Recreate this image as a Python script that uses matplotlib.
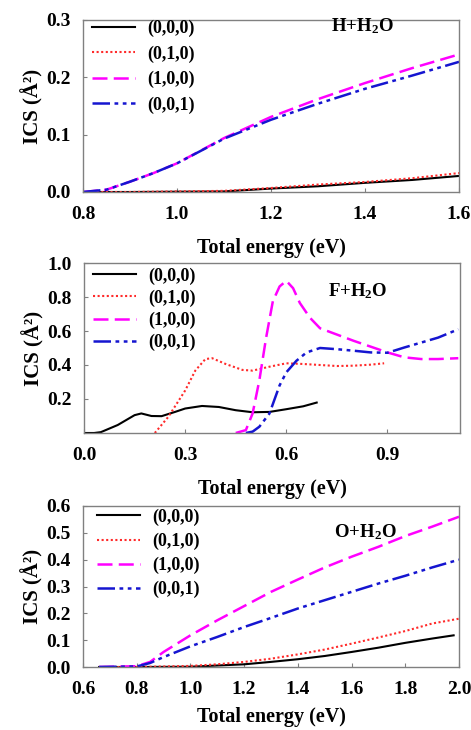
import matplotlib
matplotlib.use("Agg")
import matplotlib.pyplot as plt

plt.rcParams['font.family'] = ['Liberation Serif', 'DejaVu Serif']
plt.rcParams['font.weight'] = 'bold'
plt.rcParams['mathtext.fontset'] = 'custom'
plt.rcParams['mathtext.rm'] = 'Liberation Serif:bold'
plt.rcParams['mathtext.it'] = 'Liberation Serif:bold'
plt.rcParams['mathtext.bf'] = 'Liberation Serif:bold'

labels = ['(0,0,0)', '(0,1,0)', '(1,0,0)', '(0,0,1)']

# ---- H + H2O ----
h_x000 = [0.80, 0.90, 1.00, 1.10, 1.20, 1.30, 1.40, 1.50, 1.60]
h_y000 = [0.0, 0.0, 0.0005, 0.001, 0.006, 0.010, 0.016, 0.021, 0.028]
h_x010 = [0.80, 0.90, 1.00, 1.10, 1.20, 1.30, 1.40, 1.50, 1.60]
h_y010 = [0.0, 0.0, 0.001, 0.002, 0.007, 0.013, 0.0175, 0.024, 0.033]
h_x100 = [0.80, 0.85, 0.90, 0.95, 1.00, 1.10, 1.20, 1.30, 1.40, 1.50, 1.60]
h_y100 = [0.0, 0.004, 0.018, 0.033, 0.050, 0.094, 0.131, 0.162, 0.190, 0.216, 0.240]
h_x001 = [0.80, 0.85, 0.90, 0.95, 1.00, 1.10, 1.20, 1.30, 1.40, 1.50, 1.60]
h_y001 = [0.0, 0.004, 0.018, 0.033, 0.050, 0.093, 0.126, 0.154, 0.180, 0.203, 0.227]

# ---- F + H2O ----
f_x000 = [0.00, 0.03, 0.05, 0.10, 0.15, 0.17, 0.20, 0.23, 0.27, 0.30, 0.35, 0.40, 0.45, 0.50, 0.55, 0.60, 0.65, 0.69]
f_y000 = [0.0, 0.0, 0.005, 0.047, 0.105, 0.115, 0.100, 0.099, 0.124, 0.144, 0.159, 0.153, 0.134, 0.122, 0.124, 0.140, 0.157, 0.179]
f_x010 = [0.21, 0.25, 0.30, 0.33, 0.36, 0.38, 0.42, 0.47, 0.50, 0.55, 0.60, 0.65, 0.70, 0.75, 0.80, 0.85, 0.89]
f_y010 = [0.0, 0.095, 0.25, 0.367, 0.435, 0.44, 0.406, 0.371, 0.367, 0.39, 0.41, 0.406, 0.40, 0.394, 0.396, 0.402, 0.41]
f_x100 = [0.45, 0.48, 0.50, 0.52, 0.54, 0.56, 0.58, 0.60, 0.62, 0.64, 0.67, 0.70, 0.80, 0.90, 0.95, 1.00, 1.05, 1.11]
f_y100 = [0.0, 0.017, 0.115, 0.31, 0.56, 0.775, 0.862, 0.895, 0.852, 0.765, 0.678, 0.616, 0.542, 0.474, 0.445, 0.435, 0.435, 0.44]
f_x001 = [0.48, 0.50, 0.52, 0.55, 0.58, 0.60, 0.63, 0.66, 0.70, 0.75, 0.80, 0.85, 0.90, 0.95, 1.00, 1.05, 1.11]
f_y001 = [0.0, 0.008, 0.037, 0.115, 0.28, 0.357, 0.425, 0.474, 0.50, 0.493, 0.484, 0.474, 0.472, 0.503, 0.532, 0.561, 0.61]

# ---- O + H2O ----
o_x000 = [0.66, 0.80, 1.00, 1.20, 1.30, 1.40, 1.50, 1.60, 1.70, 1.80, 1.90, 1.98]
o_y000 = [0.0, 0.0, 0.001, 0.010, 0.019, 0.029, 0.041, 0.056, 0.072, 0.090, 0.106, 0.118]
o_x010 = [0.66, 0.80, 1.00, 1.10, 1.20, 1.30, 1.40, 1.50, 1.60, 1.70, 1.80, 1.90, 2.00]
o_y010 = [0.0, 0.0, 0.004, 0.010, 0.019, 0.031, 0.047, 0.065, 0.087, 0.110, 0.134, 0.162, 0.180]
o_x100 = [0.66, 0.80, 0.85, 0.90, 1.00, 1.10, 1.20, 1.30, 1.40, 1.50, 1.60, 1.70, 1.80, 1.90, 2.00]
o_y100 = [0.0, 0.003, 0.019, 0.056, 0.118, 0.174, 0.227, 0.280, 0.326, 0.371, 0.411, 0.448, 0.488, 0.523, 0.560]
o_x001 = [0.66, 0.80, 0.85, 0.90, 1.00, 1.10, 1.20, 1.30, 1.40, 1.50, 1.60, 1.70, 1.80, 1.90, 2.00]
o_y001 = [0.0, 0.002, 0.015, 0.037, 0.077, 0.112, 0.149, 0.183, 0.218, 0.249, 0.280, 0.311, 0.340, 0.371, 0.400]

styles = [
    dict(color='black', linestyle='-', linewidth=1.5),
    dict(color='#ff2a2a', linestyle=(0, (1, 1.2)), linewidth=1.5),
    dict(color='#ff00ff', linestyle=(0, (6, 2.5)), linewidth=1.8),
    dict(color='#1515d0', linestyle=(0, (7, 1.8, 1.5, 1.8, 1.5, 1.8)), linewidth=1.8),
]

fig = plt.figure(figsize=(4.71, 7.30), dpi=100)
W, H = 471.0, 730.0

def make_ax(l, t, r, b):
    return fig.add_axes([l / W, 1 - b / H, (r - l) / W, (b - t) / H])

panels = [
    dict(box=(83, 20, 459, 192), data=[(h_x000, h_y000), (h_x010, h_y010), (h_x100, h_y100), (h_x001, h_y001)],
         xlim=(0.8, 1.6), ylim=(0, 0.3), xticks=[0.8, 1.0, 1.2, 1.4, 1.6], yticks=[0.0, 0.1, 0.2, 0.3],
         title=r'H+H$_2$O', tpos=(0.742, 0.962), leg_anchor=(0.024, 1.0), leg_spacing=0.45, xlab_y=-0.27),
    dict(box=(84, 263, 460, 433), data=[(f_x000, f_y000), (f_x010, f_y010), (f_x100, f_y100), (f_x001, f_y001)],
         xlim=(0.0, 1.115), ylim=(0, 1.0), xticks=[0.0, 0.3, 0.6, 0.9], yticks=[0.2, 0.4, 0.6, 0.8, 1.0],
         title=r'F+H$_2$O', tpos=(0.729, 0.835), leg_anchor=(0.024, 0.975), leg_spacing=0.27, xlab_y=-0.27),
    dict(box=(83, 506, 459, 667), data=[(o_x000, o_y000), (o_x010, o_y010), (o_x100, o_y100), (o_x001, o_y001)],
         xlim=(0.6, 2.0), ylim=(0, 0.6), xticks=[0.6, 0.8, 1.0, 1.2, 1.4, 1.6, 1.8, 2.0],
         yticks=[0.0, 0.1, 0.2, 0.3, 0.4, 0.5, 0.6], title=r'O+H$_2$O', tpos=(0.75, 0.84),
         leg_anchor=(0.037, 0.985), leg_spacing=0.38, xlab_y=-0.235),
]

for p in panels:
    ax = make_ax(*p['box'])
    for (xs, ys), st, lab in zip(p['data'], styles, labels):
        ax.plot(xs, ys, label=lab, **st)
    ax.set_xlim(*p['xlim'])
    ax.set_ylim(*p['ylim'])
    ax.set_xticks(p['xticks'])
    ax.set_yticks(p['yticks'])
    ax.set_xticklabels(['%.1f' % v for v in p['xticks']], fontsize=14, fontweight='bold')
    ax.set_yticklabels(['%.1f' % v for v in p['yticks']], fontsize=14, fontweight='bold')
    ax.tick_params(direction='in', length=3, width=0.8, color='#808080')
    ax.tick_params(axis='x', pad=10)
    ax.tick_params(axis='y', pad=9)
    for s in ax.spines.values():
        s.set_color('#808080')
        s.set_linewidth(1.0)
    ax.set_xlabel('Total energy (eV)', fontsize=14.5, fontweight='bold', va='top')
    ax.xaxis.set_label_coords(0.5, p['xlab_y'] * 172 / (p['box'][3] - p['box'][1]))
    ax.set_ylabel('ICS (Å²)', fontsize=15, fontweight='bold', va='center')
    ax.yaxis.set_label_coords(-0.136, 0.5)
    ax.legend(loc='upper left', bbox_to_anchor=p['leg_anchor'], frameon=False,
              handlelength=2.4, labelspacing=p['leg_spacing'], handletextpad=0.65,
              borderaxespad=0.0, borderpad=0.0,
              prop=dict(weight='bold', size=13))
    ax.text(p['tpos'][0], p['tpos'][1], p['title'], transform=ax.transAxes, ha='center', va='center',
            fontsize=13.5, fontweight='bold')

fig.savefig('out.png', dpi=100)
